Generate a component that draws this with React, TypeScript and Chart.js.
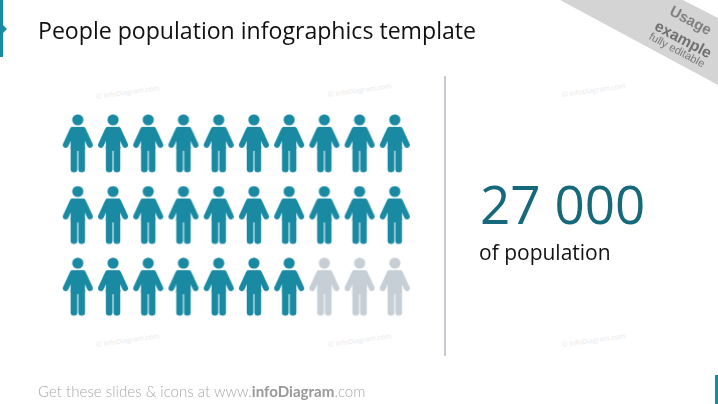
import React, { useEffect, useRef } from "react";
import Chart from "chart.js/auto";

const titleText = "People population infographics template";
const bigNumber = "27 000";
const bigNumberCaption = "of population";
const filledColumns = [1, 2, 3, 4, 5, 6, 7, 8, 9, 10, 1, 2, 3, 4, 5, 6, 7, 8, 9, 10, 1, 2, 3, 4, 5, 6, 7];
const filledRows = [1, 1, 1, 1, 1, 1, 1, 1, 1, 1, 2, 2, 2, 2, 2, 2, 2, 2, 2, 2, 3, 3, 3, 3, 3, 3, 3];
const emptyColumns = [8, 9, 10];
const emptyRows = [3, 3, 3];
const watermarkSpots = [
  [96, 92], [328, 90], [562, 90], [96, 340], [328, 340], [562, 340],
];

const TEAL = "#1a8aa3";
const GREY = "#c6ced6";

function personIcon(color: string): HTMLCanvasElement {
  const c = document.createElement("canvas");
  c.width = 32;
  c.height = 60;
  const g = c.getContext("2d")!;
  g.fillStyle = color;
  g.strokeStyle = color;
  g.lineCap = "round";
  g.lineJoin = "round";
  g.beginPath();
  g.arc(16, 6, 5.6, 0, Math.PI * 2);
  g.fill();
  g.lineWidth = 5.8;
  g.beginPath();
  g.moveTo(10.8, 16);
  g.lineTo(3.9, 31);
  g.moveTo(21.2, 16);
  g.lineTo(28.1, 31);
  g.stroke();
  g.beginPath();
  g.roundRect(8.8, 13, 14.4, 24, 2);
  g.fill();
  g.beginPath();
  g.roundRect(8.8, 30, 6.7, 28.6, 3.3);
  g.fill();
  g.beginPath();
  g.roundRect(16.5, 30, 6.7, 28.6, 3.3);
  g.fill();
  return c;
}

const abs = (o: React.CSSProperties): React.CSSProperties => ({
  position: "absolute",
  whiteSpace: "nowrap",
  margin: 0,
  ...o,
});

export default function App() {
  const ref = useRef<HTMLCanvasElement | null>(null);
  useEffect(() => {
    document.body.style.margin = "0";
    document.body.style.background = "#fff";
    document.body.style.overflow = "hidden";
    const toPoints = (xs: number[], ys: number[]) => xs.map((x, i) => ({ x, y: ys[i] }));
    const chart = new Chart(ref.current!, {
      type: "scatter",
      data: {
        datasets: [
          { label: "Population", data: toPoints(filledColumns, filledRows), pointStyle: personIcon(TEAL) as any },
          { label: "Remaining", data: toPoints(emptyColumns, emptyRows), pointStyle: personIcon(GREY) as any },
        ],
      },
      options: {
        animation: false,
        responsive: false,
        devicePixelRatio: 1,
        layout: { padding: { left: 60.2, right: 305.6, top: 108, bottom: 81 } },
        plugins: { legend: { display: false }, tooltip: { enabled: false }, title: { display: false } },
        scales: {
          x: { type: "linear", min: 0.5, max: 10.5, display: false },
          y: { type: "linear", min: 0.5, max: 3.5, reverse: true, display: false },
        },
      },
    });
    return () => chart.destroy();
  }, []);

  return (
    <div style={{ position: "relative", width: 718, height: 404, overflow: "hidden", background: "#fff" }}>
      {watermarkSpots.map(([x, y], i) => (
        <span
          key={i}
          style={abs({
            left: x,
            top: y,
            font: "7px 'Open Sans'",
            color: "#e9e9e9",
            transform: "rotate(-8deg)",
            transformOrigin: "left center",
          })}
        >
          © infoDiagram.com
        </span>
      ))}
      <canvas ref={ref} width={718} height={404} style={{ position: "absolute", left: 0, top: 0, width: 718, height: 404 }} />
      <div style={abs({ left: 0, top: 0, width: 3, height: 57, background: TEAL })} />
      <div style={abs({ left: 3, top: 25, width: 4, height: 8, background: TEAL, clipPath: "polygon(0 0,100% 50%,0 100%)" })} />
      <div style={abs({ left: 715, top: 375, width: 3, height: 29, background: TEAL })} />
      <div style={abs({ left: 444, top: 76, width: 2, height: 280, background: "#c5c9d4" })} />
      <h1 style={abs({ left: 38, top: 12, font: "400 23.1px 'Open Sans'", color: "#111", lineHeight: "36px" })}>{titleText}</h1>
      <div style={abs({ left: 480, top: 166, font: "400 53px 'Open Sans'", color: "#15697b", lineHeight: "76px" })}>{bigNumber}</div>
      <div style={abs({ left: 479, top: 236, font: "400 21px 'Open Sans'", color: "#111", lineHeight: "32px" })}>{bigNumberCaption}</div>
      <div style={abs({ left: 38, top: 381, font: "300 15.1px Lato", color: "#a8a8a8", lineHeight: "20px" })}>
        Get these slides &amp; icons at www.<b style={{ fontWeight: 700, color: "#999" }}>infoDiagram</b>.com
      </div>
      <div style={abs({ left: 0, top: 0, width: 718, height: 404, background: "#d4d4d4", clipPath: "polygon(560px 0,683px 0,718px 18px,718px 85px)" })} />
      <div style={abs({ left: 675, top: 2, font: "700 15px 'Liberation Sans'", color: "#808080", transform: "rotate(28deg)", transformOrigin: "left top" })}>Usage</div>
      <div style={abs({ left: 660, top: 17, font: "700 15.5px 'Liberation Sans'", color: "#707070", transform: "rotate(28deg)", transformOrigin: "left top" })}>example</div>
      <div style={abs({ left: 653, top: 30, font: "400 11px 'Liberation Sans'", color: "#777", transform: "rotate(28deg)", transformOrigin: "left top" })}>fully editable</div>
    </div>
  );
}
